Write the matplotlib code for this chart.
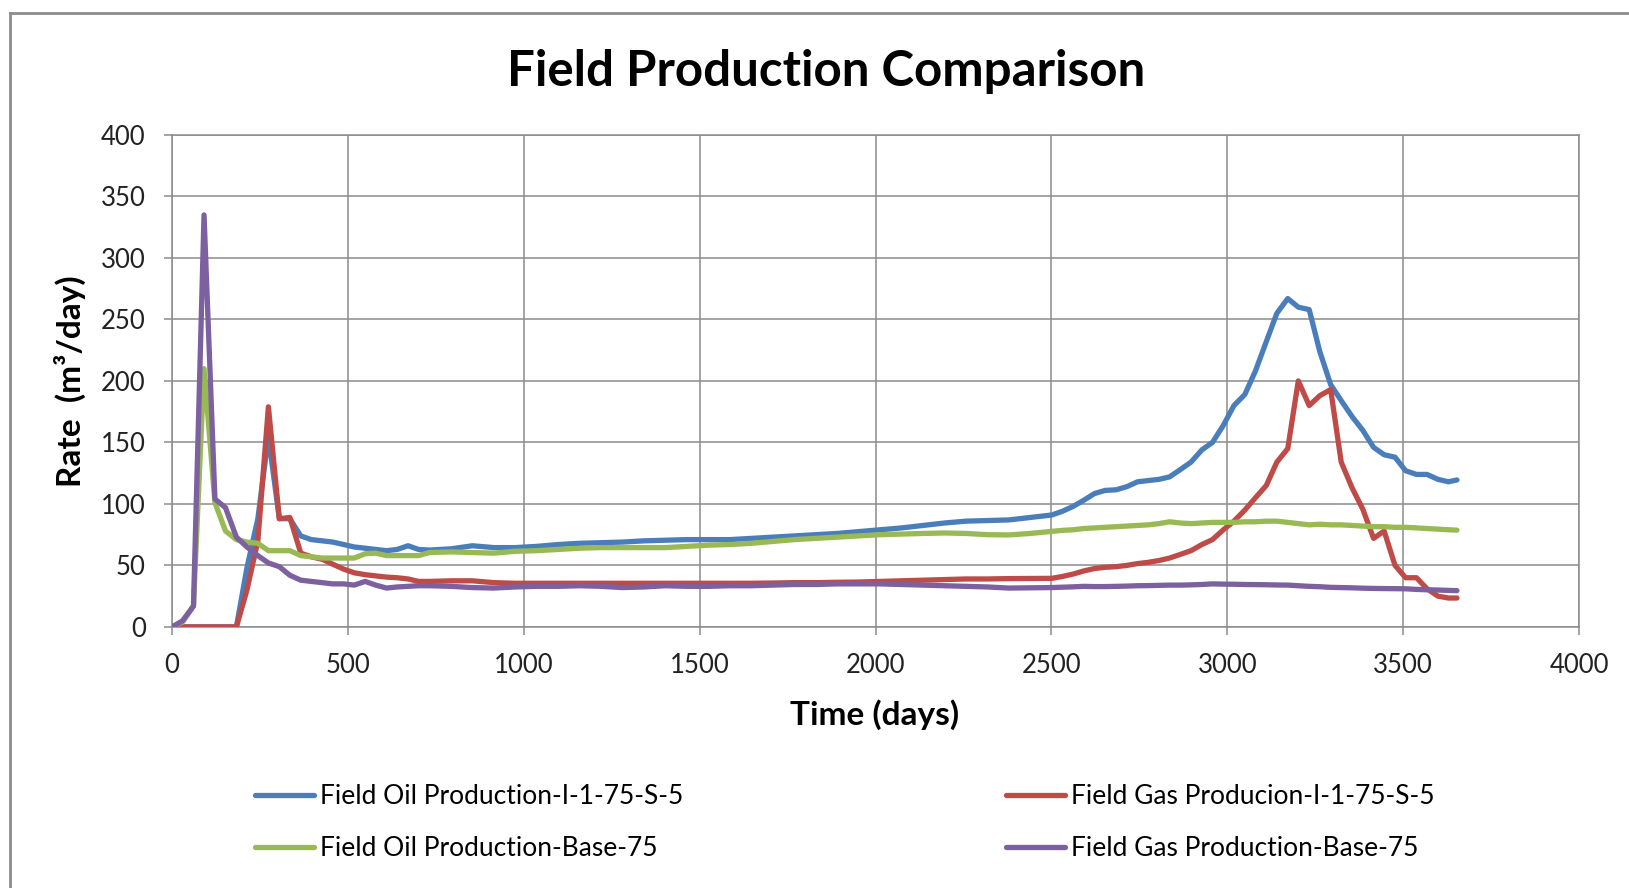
import matplotlib
matplotlib.use("Agg")
import matplotlib.pyplot as plt
from matplotlib.lines import Line2D

plt.rcParams['font.family'] = ['Lato', 'DejaVu Sans']

days = [0, 30, 61, 91, 122, 152, 183, 213, 244, 274, 305, 335, 366, 396, 427, 457, 488, 518, 549, 579, 610, 640, 671, 701, 732,
        793, 854, 915, 976, 1037, 1098, 1159, 1220, 1281, 1342, 1403, 1464, 1525, 1586, 1647, 1708, 1769, 1830, 1891, 1952,
        2013, 2074, 2135, 2196, 2257, 2318, 2379, 2440, 2501,
        2531, 2562, 2592, 2623, 2653, 2684, 2714, 2745, 2775, 2806, 2836, 2867, 2897, 2928, 2958, 2989, 3019, 3050, 3080,
        3111, 3141, 3172, 3202, 3233, 3263, 3294, 3324, 3355, 3385, 3416, 3446, 3477, 3507, 3538, 3568, 3599, 3629, 3653]

oil_i = [0, 0, 0, 0, 0, 0, 0, 48, 88, 155, 88, 88, 74, 71, 70, 69, 67, 65, 64, 63, 62, 63, 66, 63, 62.5,
         63.5, 66, 64.5, 64.5, 65.5, 67, 68, 68.5, 69, 70, 70.5, 71, 71, 71, 72, 73, 74, 75, 76, 77.5,
         79, 80.5, 82.5, 84.5, 86, 86.5, 87, 89, 91,
         94, 98, 103, 108.5, 111, 111.5, 114, 118, 119, 120, 122, 128, 134, 144, 150, 164, 180, 189, 208,
         232, 255, 267, 260, 258, 224, 197, 184, 171, 160, 146, 140, 138, 127, 124, 124, 120, 118, 119.5]

gas_i = [0, 0, 0, 0, 0, 0, 0, 30, 70, 179, 88, 89, 60, 57, 55, 51, 47, 44, 42.5, 41.5, 40.5, 40, 39, 37, 37,
         37.5, 37.5, 36, 35.5, 35.5, 35.5, 35.5, 35.5, 35.5, 35.5, 35.5, 35.5, 35.5, 35.5, 35.5, 35.7, 36, 36, 36.3, 36.5,
         37, 37.5, 38, 38.5, 39, 39, 39.3, 39.4, 39.5,
         41, 43, 45.5, 47.5, 48.5, 49, 50, 51.5, 52.5, 54, 56, 59, 62, 67, 71, 79, 86, 95, 105,
         115, 134, 145, 200, 180, 188, 193, 134, 113, 96, 72, 78, 50, 40, 40, 31, 25, 23.5, 23.5]

oil_base = [0, 4, 17, 210, 101, 78, 71, 69, 68, 62, 62, 62, 58, 57, 56, 56, 56, 56, 59.5, 60, 58, 58, 58, 58, 60.5,
            61, 60.5, 60, 61.5, 62, 63, 64, 64.5, 64.5, 64.5, 64.5, 65.5, 66.5, 67, 68, 69.5, 71, 72, 73, 74,
            75, 75.5, 76, 76.4, 76, 75, 74.8, 76, 77.7,
            78.5, 79, 80, 80.5, 81, 81.5, 82, 82.5, 83, 84, 85.5, 84.5, 84, 84.5, 85, 85, 85, 85.5, 85.5,
            86, 86, 85, 84, 83, 83.5, 83, 83, 82.5, 82, 81.5, 81.5, 81, 81, 80.5, 80, 79.5, 79, 78.7]

gas_base = [0, 5, 17, 335, 104, 97, 73, 65, 58, 52, 49, 42, 38, 37, 36, 35, 35, 34, 37, 34, 31.6, 32.5, 33, 33.5, 33.5,
            33, 32, 31.6, 32.5, 33, 33, 33.5, 33, 32, 32.5, 33.5, 33, 33, 33.5, 33.5, 34, 34.5, 34.5, 35, 35,
            35, 34.5, 34, 33.5, 33, 32.5, 31.6, 31.8, 32,
            32.3, 32.6, 33, 32.8, 32.8, 33, 33.2, 33.5, 33.6, 33.8, 34, 34, 34.2, 34.5, 35, 34.8, 34.7, 34.5, 34.4,
            34.3, 34.1, 34, 33.5, 33, 32.7, 32.2, 32, 31.8, 31.5, 31.3, 31.2, 31.1, 31, 30.5, 30.2, 30, 29.7, 29.5]

series_labels = ["Field Oil Production-I-1-75-S-5", "Field Gas Producion-I-1-75-S-5",
                 "Field Oil Production-Base-75", "Field Gas Production-Base-75"]
series_values = [oil_i, gas_i, oil_base, gas_base]
colors = ["#4A7EBB", "#BE4B48", "#98B954", "#7D60A0"]

x_ticks = [0, 500, 1000, 1500, 2000, 2500, 3000, 3500, 4000]
y_ticks = [0, 50, 100, 150, 200, 250, 300, 350, 400]

fig = plt.figure(figsize=(16.29, 8.88), dpi=100)
ax = fig.add_axes([0.1056, 0.294, 0.9693 - 0.1056, 0.848 - 0.294])

grid_c = "#8C8C8C"
handles = []
for vals, c, lab in zip(series_values, colors, series_labels):
    h, = ax.plot(days, vals, color=c, lw=3.8, solid_capstyle='round', solid_joinstyle='round', label=lab, zorder=3)
    handles.append(h)

ax.set_xlim(0, 4000)
ax.set_ylim(0, 400)
ax.set_xticks(x_ticks)
ax.set_yticks(y_ticks)
ax.grid(True, color=grid_c, lw=1.1, zorder=0)
for s in ax.spines.values():
    s.set_color(grid_c)
    s.set_linewidth(1.1)
ax.tick_params(axis='both', direction='out', length=6, width=1.1, color=grid_c,
               labelsize=18.5, labelcolor="#222222")
ax.tick_params(axis='y', pad=13)
ax.tick_params(axis='x', pad=13)

fig.text(0.507, 0.920, "Field Production Comparison", ha='center', va='center',
         fontsize=35.5, fontweight='bold', color='black')
fig.text(0.537, 0.195, "Time (days)", ha='center', va='center', fontsize=24, fontweight='bold')
fig.text(0.043, 0.571, "Rate  (m³/day)", ha='center', va='center', rotation=90, fontsize=24, fontweight='bold')

# legend: four single entries positioned like the reference
pos = [(0.1563, 0.1025), (0.6174, 0.1025), (0.1563, 0.044), (0.6174, 0.044)]
for h, lab, (px, py) in zip(handles, series_labels, pos):
    fig.legend(handles=[h], labels=[lab], loc='center left', bbox_to_anchor=(px, py),
               frameon=False, fontsize=19, handlelength=2.25, handletextpad=0.22,
               borderpad=0, borderaxespad=0)

# chart-area frame (top and left visible)
fig.add_artist(Line2D([0.0062, 1.0], [0.985, 0.985], transform=fig.transFigure, color="#8C8C8C", lw=2))
fig.add_artist(Line2D([0.0062, 0.0062], [0.0, 0.985], transform=fig.transFigure, color="#8C8C8C", lw=2))

fig.savefig("out.png", dpi=100)
